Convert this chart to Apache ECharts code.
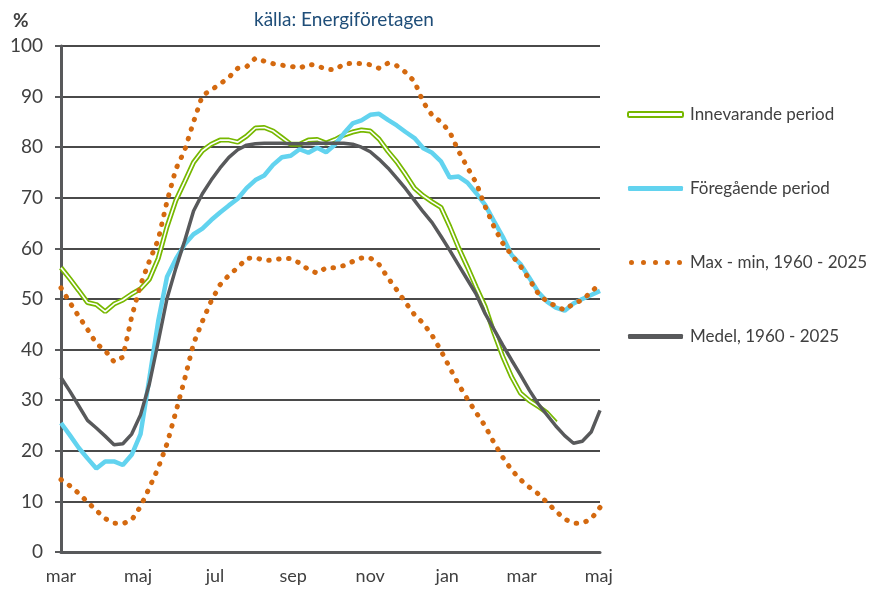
<!DOCTYPE html>
<html>
<head>
<meta charset="utf-8">
<script src="https://cdn.jsdelivr.net/npm/echarts@6/dist/echarts.min.js"></script>
<style>
  html, body { margin: 0; padding: 0; background: #fff; }
  #chart { width: 877px; height: 589px; }
</style>
</head>
<body>
<div id="chart"></div>
<script>
// veckovärden från mars till maj året efter (dag 0 = 1 mars)
var monthNames = ['mar', 'maj', 'jul', 'sep', 'nov', 'jan', 'mar', 'maj'];
var monthDays = [0, 61, 122, 184, 245, 306, 365, 426];
var yTicks = [0, 10, 20, 30, 40, 50, 60, 70, 80, 90, 100];

var innevarande = [
  56.2, 54.0, 51.7, 49.3, 48.9, 47.5, 49.0, 49.8, 51.0, 52.0,
  53.9, 58.0, 64.3, 69.5, 73.2, 77.0, 79.3, 80.6, 81.4, 81.4,
  81.0, 82.2, 83.8, 83.9, 83.2, 81.9, 80.6, 80.6, 81.4, 81.5,
  80.8, 81.5, 82.4, 83.0, 83.4, 83.2, 81.6, 79.2, 77.1, 74.6,
  71.9, 70.4, 69.2, 68.1, 64.3, 60.1, 56.3, 52.3, 48.5, 43.3,
  38.6, 34.6, 31.4, 29.9, 28.8, 27.5, 25.6
];
var foregaende = [
  25.5, 23.1, 20.6, 18.5, 16.5, 17.9, 17.9, 17.2, 19.2, 23.3,
  34.3, 45.6, 54.4, 57.9, 60.8, 62.8, 63.9, 65.6, 67.1, 68.5,
  69.8, 71.9, 73.5, 74.4, 76.5, 78.0, 78.3, 79.6, 78.9, 79.9,
  79.0, 80.5, 82.7, 84.7, 85.3, 86.4, 86.6, 85.4, 84.3, 83.0,
  81.8, 79.8, 78.9, 77.2, 74.0, 74.2, 73.0, 70.9, 68.6, 65.4,
  62.3, 58.7, 56.9, 54.2, 51.4, 49.5, 48.3, 47.7, 49.1, 50.0,
  50.8, 51.6
];
var maxVals = [
  52.2, 49.3, 46.6, 44.0, 41.2, 39.8, 37.6, 38.5, 46.5, 52.8,
  57.5, 61.7, 69.3, 75.7, 79.4, 85.0, 90.2, 91.3, 92.5, 93.8,
  95.6, 95.9, 97.6, 97.0, 96.5, 96.2, 96.0, 95.6, 96.4, 96.1,
  95.4, 95.3, 96.4, 96.6, 96.5, 96.3, 95.6, 96.6, 96.1, 94.8,
  93.0, 88.9, 86.3, 85.0, 83.0, 79.2, 76.0, 72.9, 68.3, 64.3,
  61.0, 58.7, 56.5, 53.9, 51.1, 49.5, 48.6, 47.8, 49.1, 49.8,
  51.4, 53.0
];
var minVals = [
  14.3, 13.1, 11.6, 9.9, 8.2, 6.6, 5.7, 5.6, 6.3, 9.0,
  12.7, 16.6, 21.4, 27.7, 34.2, 41.2, 45.6, 49.6, 52.8, 54.7,
  56.2, 58.0, 58.2, 57.6, 57.7, 58.0, 58.0, 57.1, 55.8, 55.1,
  56.2, 56.2, 56.6, 57.4, 58.1, 58.1, 56.8, 54.2, 51.8, 49.3,
  46.9, 45.2, 42.8, 39.8, 36.4, 33.1, 30.2, 27.5, 24.9, 21.6,
  18.7, 16.2, 14.3, 12.8, 11.5, 9.8, 8.1, 6.5, 5.7, 5.7,
  6.5, 8.8
];
var medel = [
  34.5, 31.8, 28.9, 26.0, 24.5, 22.9, 21.2, 21.4, 23.3, 27.1,
  33.2, 41.5, 50.1, 56.1, 61.5, 67.4, 70.8, 73.5, 75.9, 78.0,
  79.5, 80.4, 80.7, 80.8, 80.8, 80.8, 80.7, 80.7, 80.7, 80.8,
  80.8, 80.8, 80.8, 80.6, 80.0, 79.1, 77.6, 75.9, 73.9, 71.8,
  69.5, 67.2, 65.1, 62.4, 59.6, 56.7, 53.8, 50.9, 47.1, 44.0,
  40.9, 37.9, 35.0, 32.0, 29.3, 27.1, 24.9, 23.0, 21.5, 21.9,
  23.7, 28.0
];

var GREEN = '#77b800';
var BLUE = '#62d3ef';
var ORANGE = '#d4690f';
var GREY = '#58595b';
var FONT = 'Lato';

/*veckonummer -> dag*/
function weekly(values) {
  return values.map(function (v, i) { return [i * 7, v]; });
}

var dotsIcon = 'path://M0,2.5A2.5,2.5,0,1,1,5,2.5A2.5,2.5,0,1,1,0,2.5Z' +
  'M12,2.5A2.5,2.5,0,1,1,17,2.5A2.5,2.5,0,1,1,12,2.5Z' +
  'M24,2.5A2.5,2.5,0,1,1,29,2.5A2.5,2.5,0,1,1,24,2.5Z' +
  'M36,2.5A2.5,2.5,0,1,1,41,2.5A2.5,2.5,0,1,1,36,2.5Z' +
  'M48,2.5A2.5,2.5,0,1,1,53,2.5A2.5,2.5,0,1,1,48,2.5Z';

var dotted = { color: ORANGE, width: 5, type: [0.5, 9.5], cap: 'round' };

var chart = echarts.init(document.getElementById('chart'));
chart.setOption({
  animation: false,
  backgroundColor: '#fff',
  textStyle: { fontFamily: FONT },
  title: [
    { text: '%', left: 8, top: 6, textStyle: { fontSize: 19, fontWeight: 'bold', color: '#404040', fontFamily: FONT } },
    { text: 'källa: Energiföretagen', left: 249, top: 5, textStyle: { fontSize: 19, fontWeight: 'normal', color: '#1f4e79', fontFamily: FONT } }
  ],
  grid: { left: 61, right: 277, top: 46, bottom: 37 },
  legend: {
    orient: 'vertical',
    left: 622,
    top: 101,
    itemGap: 57,
    itemWidth: 55,
    itemHeight: 5,
    textStyle: { fontSize: 17, color: '#404040', fontFamily: FONT, padding: [0, 0, 0, 2] },
    data: [
      { name: 'Innevarande period', icon: 'roundRect', itemStyle: { color: '#fff', borderColor: GREEN, borderWidth: 2 } },
      { name: 'Föregående period', icon: 'roundRect', itemStyle: { color: BLUE, borderWidth: 0 } },
      { name: 'Max - min, 1960 - 2025', icon: dotsIcon, itemStyle: { color: ORANGE, borderWidth: 0 } },
      { name: 'Medel, 1960 - 2025', icon: 'roundRect', itemStyle: { color: GREY, borderWidth: 0 } }
    ]
  },
  xAxis: {
    type: 'value',
    min: 0,
    max: 427,
    axisLine: { show: true, lineStyle: { color: GREY, width: 3 } },
    axisTick: { show: false },
    splitLine: { show: false },
    axisLabel: {
      customValues: monthDays,
      margin: 15,
      fontSize: 18,
      color: '#404040',
      fontFamily: FONT,
      formatter: function (v) { return monthNames[monthDays.indexOf(v)]; }
    }
  },
  yAxis: {
    type: 'value',
    min: yTicks[0],
    max: yTicks[yTicks.length - 1],
    interval: 10,
    axisLine: { show: true, lineStyle: { color: GREY, width: 3 } },
    axisTick: { show: true, length: 6, lineStyle: { color: GREY, width: 2 } },
    splitLine: { show: true, lineStyle: { color: '#4a4a4a', width: 2 } },
    axisLabel: { margin: 18, fontSize: 19, color: '#404040', fontFamily: FONT }
  },
  series: [
    {
      name: 'Innevarande period', type: 'line', symbol: 'none', z: 2,
      lineStyle: { color: GREEN, width: 5 }, itemStyle: { color: GREEN },
      data: weekly(innevarande)
    },
    {
      name: 'inner', type: 'line', symbol: 'none', z: 2, silent: true,
      lineStyle: { color: '#fff', width: 1.6 },
      data: weekly(innevarande)
    },
    {
      name: 'Föregående period', type: 'line', symbol: 'none', z: 3,
      lineStyle: { color: BLUE, width: 4.5 }, itemStyle: { color: BLUE },
      data: weekly(foregaende)
    },
    {
      name: 'Max - min, 1960 - 2025', type: 'line', symbol: 'none', z: 4,
      lineStyle: dotted, itemStyle: { color: ORANGE },
      data: weekly(maxVals)
    },
    {
      name: 'Max - min, 1960 - 2025', type: 'line', symbol: 'none', z: 4,
      lineStyle: dotted, itemStyle: { color: ORANGE },
      data: weekly(minVals)
    },
    {
      name: 'Medel, 1960 - 2025', type: 'line', symbol: 'none', z: 5,
      lineStyle: { color: GREY, width: 3.5 }, itemStyle: { color: GREY },
      data: weekly(medel)
    }
  ]
});
</script>
</body>
</html>
